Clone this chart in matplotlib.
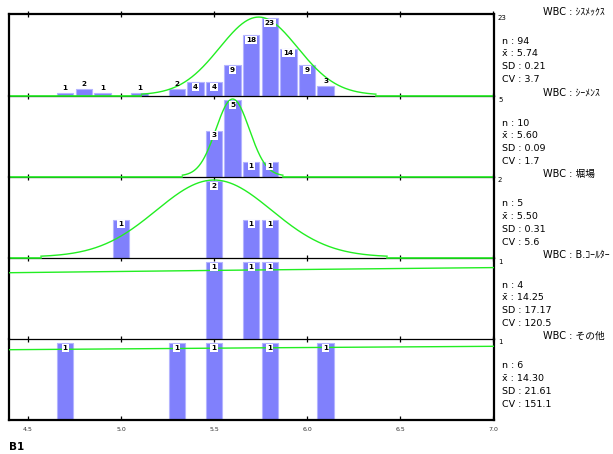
import matplotlib

matplotlib.use("Agg")

import matplotlib.pyplot as plt
import numpy as np

plt.rcParams["font.family"] = ["Noto Sans CJK JP", "DejaVu Sans"]

# histogram data per analyser (bin centres, counts)
labels = ["WBC : ｼｽﾒｯｸｽ", "WBC : ｼｰﾒﾝｽ", "WBC : 堀場", "WBC : B.ｺｰﾙﾀｰ", "WBC : その他"]
bins_1 = [4.7, 4.8, 4.9, 5.1, 5.3, 5.4, 5.5, 5.6, 5.7, 5.8, 5.9, 6.0, 6.1]
counts_1 = [1, 2, 1, 1, 2, 4, 4, 9, 18, 23, 14, 9, 3]
bins_2 = [5.5, 5.6, 5.7, 5.8]
counts_2 = [3, 5, 1, 1]
bins_3 = [5.0, 5.5, 5.7, 5.8]
counts_3 = [1, 2, 1, 1]
bins_4 = [5.5, 5.7, 5.8]
counts_4 = [1, 1, 1]
bins_5 = [4.7, 5.3, 5.5, 5.8, 6.1]
counts_5 = [1, 1, 1, 1, 1]

n_vals = [94, 10, 5, 4, 6]
means = [5.74, 5.60, 5.50, 14.25, 14.30]
sds = [0.21, 0.09, 0.31, 17.17, 21.61]
cvs = [3.7, 1.7, 5.6, 120.5, 151.1]

xticks = [4.5, 5.0, 5.5, 6.0, 6.5, 7.0]
xtick_labels = ["4.5", "5.0", "5.5", "6.0", "6.5", "7.0"]

all_bins = [bins_1, bins_2, bins_3, bins_4, bins_5]
all_counts = [counts_1, counts_2, counts_3, counts_4, counts_5]

W, H = 613, 454
left_px, right_px = 9, 494
tops = [14, 96, 177, 258, 339]
bottom_px = 420
xlim = (4.398, 7.005)

BAR = "#8080fc"
BAR_EDGE = "#b4b4ff"
GREEN = "#22ee22"

fig = plt.figure(figsize=(W / 100, H / 100), dpi=100)
fig.patch.set_facecolor("white")

for i in range(5):
    top = tops[i]
    bot = tops[i + 1] if i < 4 else bottom_px
    ax = fig.add_axes([left_px / W, 1 - bot / H, (right_px - left_px) / W, (bot - top) / H])
    cmax = max(all_counts[i])
    ymax = cmax * 1.052
    ax.set_xlim(*xlim)
    ax.set_ylim(0, ymax)

    ax.bar(all_bins[i], all_counts[i], width=0.088, color=BAR,
           edgecolor=BAR_EDGE, linewidth=0.8, zorder=2)

    # normal curve scaled to the highest bin, +-3 SD
    m, s = means[i], sds[i]
    lo, hi = max(m - 3 * s, xlim[0]), min(m + 3 * s, xlim[1])
    xx = np.linspace(lo, hi, 400)
    yy = cmax * np.exp(-0.5 * ((xx - m) / s) ** 2)
    ax.plot(xx, yy + ymax * 0.012, color=GREEN, linewidth=1.0, zorder=4)
    if lo > xlim[0]:
        ax.plot([xlim[0], lo], [0, 0], color=GREEN, linewidth=1.2, zorder=4, clip_on=False)
    if hi < xlim[1]:
        ax.plot([hi, xlim[1]], [0, 0], color=GREEN, linewidth=1.2, zorder=4, clip_on=False)

    # value labels
    for bx, c in zip(all_bins[i], all_counts[i]):
        px_h = c / ymax * (bot - top)
        if px_h >= 12:
            ax.annotate(str(c), xy=(bx, c), xytext=(0, -1.2), textcoords="offset points",
                        ha="center", va="top", fontsize=5.2, fontweight="bold",
                        family="DejaVu Sans", zorder=5,
                        bbox=dict(boxstyle="square,pad=0.15", fc="white", ec="none"))
        else:
            ax.annotate(str(c), xy=(bx, c), xytext=(0, 1.5), textcoords="offset points",
                        ha="center", va="bottom", fontsize=5.2, fontweight="bold",
                        family="DejaVu Sans", zorder=5)

    ax.set_yticks([])
    ax.set_xticks(xticks)
    for side in ["left", "right"]:
        ax.spines[side].set_linewidth(1.6)
    ax.spines["bottom"].set_linewidth(1.6 if i == 4 else 0.9)
    if i == 0:
        ax.spines["top"].set_linewidth(1.6)
        ax.tick_params(axis="x", top=True, which="both")
    else:
        ax.spines["top"].set_visible(False)
    if i == 4:
        ax.tick_params(axis="x", direction="in", length=3, width=0.9, pad=5)
        ax.set_xticklabels(xtick_labels, fontsize=4.5, color="#333333", family="DejaVu Sans")
    else:
        ax.tick_params(axis="x", direction="inout", length=5, width=0.9, labelbottom=False)
    ax.set_facecolor("none")

    # right side texts
    fig.text(498 / W, 1 - (top + 0.5) / H, str(cmax), fontsize=5, va="top", ha="left",
             family="DejaVu Sans")
    fig.text(543 / W, 1 - (top - 3) / H, labels[i], fontsize=7, va="center", ha="left",
             family=["DejaVu Sans", "Noto Sans CJK JP"])
    stats = [f"n : {n_vals[i]}", f"x\u0304 : {means[i]:.2f}", f"SD : {sds[i]:.2f}",
             f"CV : {cvs[i]:.1f}"]
    for k, line in enumerate(stats):
        fig.text(502 / W, 1 - (top + 27 + k * 12.7) / H, line, fontsize=6.8,
                 va="center", ha="left", family="DejaVu Sans")

fig.text(9 / W, 1 - 447 / H, "B1", fontsize=7.5, fontweight="bold", va="center",
         ha="left", family="DejaVu Sans")

fig.savefig("out.png", dpi=100)
